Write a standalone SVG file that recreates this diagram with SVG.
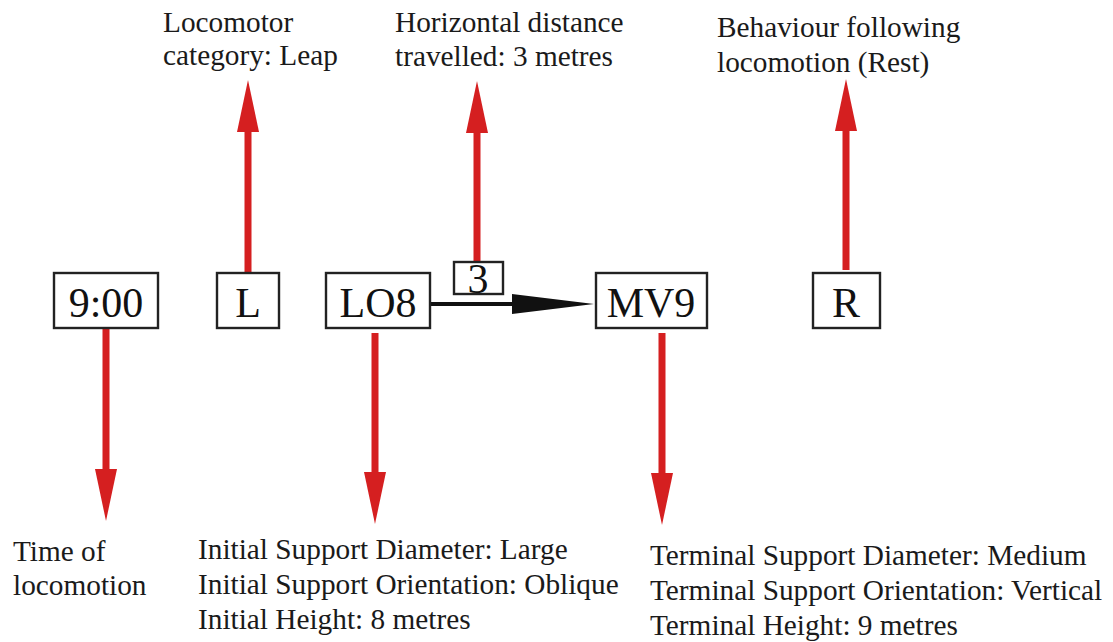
<svg xmlns="http://www.w3.org/2000/svg" width="1113" height="642" viewBox="0 0 1113 642">
  <style>
    .box { fill: #ffffff; stroke: #222222; stroke-width: 2.4; }
    .code { font-family: "Liberation Serif", "Times New Roman", serif; font-size: 42px; fill: #111111; text-anchor: middle; }
    .label { font-family: "Liberation Serif", "Times New Roman", serif; font-size: 29.3px; fill: #1a1a1a; }
    .red { stroke: #d51f20; stroke-width: 7; fill: none; }
    .link { stroke: #111111; stroke-width: 4; fill: none; }
  </style>
  <defs>
    <marker id="redHead" markerUnits="userSpaceOnUse" viewBox="0 0 52 22" markerWidth="52" markerHeight="22" refX="1" refY="11" orient="auto">
      <path d="M0,0 L52,11 L0,22 Z" fill="#d51f20"/>
    </marker>
    <marker id="blackHead" markerUnits="userSpaceOnUse" viewBox="0 0 82 20" markerWidth="82" markerHeight="20" refX="1" refY="10" orient="auto">
      <path d="M0,0 L82,10 L0,20 Z" fill="#111111"/>
    </marker>
  </defs>
  <rect width="1113" height="642" fill="#ffffff"/>

  <!-- connectors -->
  <g id="connectors">
    <line class="red" x1="106" y1="329" x2="106" y2="470" marker-end="url(#redHead)"/>
    <line class="red" x1="248" y1="273" x2="248" y2="131" marker-end="url(#redHead)"/>
    <line class="red" x1="375" y1="333" x2="375" y2="473" marker-end="url(#redHead)"/>
    <line class="red" x1="477" y1="262" x2="477" y2="132" marker-end="url(#redHead)"/>
    <line class="red" x1="662" y1="333" x2="662" y2="474" marker-end="url(#redHead)"/>
    <line class="red" x1="846" y1="270" x2="846" y2="130" marker-end="url(#redHead)"/>
    <line class="link" x1="430" y1="304" x2="513" y2="304" marker-end="url(#blackHead)"/>
  </g>

  <!-- nodes -->
  <g id="node-time">
    <rect class="box" x="54" y="273" width="104" height="55"/>
    <text class="code" x="106" y="317">9:00</text>
  </g>
  <g id="node-leap">
    <rect class="box" x="217" y="273" width="62" height="55"/>
    <text class="code" x="248" y="317">L</text>
  </g>
  <g id="node-lo8">
    <rect class="box" x="326" y="273" width="104" height="55"/>
    <text class="code" x="378" y="317">LO8</text>
  </g>
  <g id="node-distance">
    <rect class="box" x="454" y="262" width="49" height="32"/>
    <text class="code" x="478" y="293" font-size="42">3</text>
  </g>
  <g id="node-mv9">
    <rect class="box" x="596" y="273" width="111" height="55"/>
    <text class="code" x="651" y="317">MV9</text>
  </g>
  <g id="node-rest">
    <rect class="box" x="813" y="273" width="67" height="55"/>
    <text class="code" x="846" y="317">R</text>
  </g>

  <!-- labels -->
  <g id="label-category">
    <text class="label" x="163" y="32">Locomotor</text>
    <text class="label" x="163" y="65">category: Leap</text>
  </g>
  <g id="label-distance">
    <text class="label" x="395" y="32">Horizontal distance</text>
    <text class="label" x="395" y="66">travelled: 3 metres</text>
  </g>
  <g id="label-behaviour">
    <text class="label" x="717" y="37">Behaviour following</text>
    <text class="label" x="717" y="72">locomotion (Rest)</text>
  </g>
  <g id="label-time">
    <text class="label" x="13" y="561">Time of</text>
    <text class="label" x="13" y="595">locomotion</text>
  </g>
  <g id="label-initial">
    <text class="label" x="198" y="559">Initial Support Diameter: Large</text>
    <text class="label" x="198" y="594">Initial Support Orientation: Oblique</text>
    <text class="label" x="198" y="629">Initial Height: 8 metres</text>
  </g>
  <g id="label-terminal">
    <text class="label" x="650" y="565">Terminal Support Diameter: Medium</text>
    <text class="label" x="650" y="600">Terminal Support Orientation: Vertical</text>
    <text class="label" x="650" y="635">Terminal Height: 9 metres</text>
  </g>
</svg>
